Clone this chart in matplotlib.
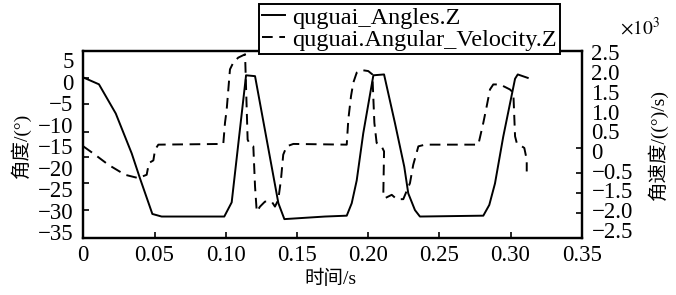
import numpy as np
import matplotlib
matplotlib.use('Agg')
import matplotlib.pyplot as plt
from matplotlib.ticker import FixedLocator, FixedFormatter

plt.rcParams['font.family'] = ['Liberation Serif', 'Noto Sans CJK SC', 'DejaVu Sans']
plt.rcParams['mathtext.fontset'] = 'stix'

# angle curve, time in s, angle in degrees
t_ang = [0.0, 0.011, 0.0228, 0.034, 0.0398, 0.0485, 0.055,
         0.099, 0.1042, 0.1143, 0.1206, 0.137, 0.1412, 0.1697,
         0.185, 0.1885, 0.192, 0.1966, 0.2037, 0.2112, 0.2189, 0.2254, 0.2282, 0.2329, 0.2364,
         0.2809, 0.2851, 0.2891, 0.2949, 0.3032, 0.3051, 0.3121]
ang = [1.0, -0.6, -7.4, -16.7, -22.5, -30.8, -31.4,
       -31.4, -28.1, 1.5, 1.3, -28.3, -32.0, -31.4,
       -31.2, -28.3, -23.0, -12.0, 1.5, 1.7, -9.7, -19.8, -26.0, -29.9, -31.4,
       -31.2, -28.7, -23.7, -12.8, 0.7, 1.7, 0.9]

# angular velocity curve, deg/s (as placed on the right axis)
t_vel = [0.0, 0.0082, 0.0176, 0.0293, 0.0386, 0.0445, 0.0461, 0.0492, 0.0504, 0.0527,
         0.0983, 0.0995, 0.1007, 0.103, 0.1053, 0.1088, 0.1136, 0.1154, 0.1171, 0.1194,
         0.1206, 0.1218, 0.1241, 0.1276, 0.1323, 0.1346, 0.1369, 0.1388, 0.1404, 0.1428, 0.1475,
         0.185, 0.1861, 0.188, 0.1896, 0.192, 0.1955, 0.2001, 0.203, 0.2044, 0.206, 0.2095,
         0.2112, 0.2107, 0.2119, 0.2166, 0.2201, 0.2247, 0.2294, 0.2317, 0.2353, 0.24,
         0.2774, 0.2809, 0.2833, 0.2856, 0.2879, 0.2926, 0.2996, 0.302, 0.3032, 0.3044,
         0.3097, 0.3114, 0.3114]
vel = [118, -93, -348, -602, -686, -602, -304, -238, 34, 161,
       179, 713, 1051, 2068, 2238, 2365, 2449, 288, 161, 118,
       -899, -1535, -1408, -1281, -1281, -1408, -1238, -729, -93, 118, 179,
       161, 796, 1389, 1730, 1984, 2050, 2025, 1940, 713, 204, 118,
       -10, -1067, -1194, -1110, -1220, -1220, -813, -348, 118, 161,
       161, 713, 1135, 1559, 1686, 1686, 1559, 1475, 372, 204,
       77, -220, -518]

x_ticks = [0, 0.05, 0.10, 0.15, 0.20, 0.25, 0.30, 0.35]
x_labels = ['0', '0.05', '0.10', '0.15', '0.20', '0.25', '0.30', '0.35']
left_labels = ['5', '0', '\u22125', '\u221210', '\u221215', '\u221220', '\u221225', '\u221230', '\u221235']
left_label_pos = [5, 0, -5, -10, -15, -20, -25, -30, -35]
left_marks = [0.8, -5.2, -11.6, -17.6, -23.6, -29.9]
right_labels = ['2.5', '2.0', '1.5', '1.0', '0.5', '0', '\u22120.5', '\u22121.5', '\u22122.0', '\u22122.5']
right_label_pos = [2.5, 2.0, 1.5, 1.0, 0.5, 0.0, -0.5, -1.0, -1.5, -2.0]
right_marks = [2.0, 1.5, 1.0, 0.5, 0.08, -0.56, -1.07, -1.58]

W, H = 676, 295
fig = plt.figure(figsize=(W / 100, H / 100), dpi=100)
ax = fig.add_axes([83.3 / W, 1 - 237.7 / H, (581.7 - 83.3) / W, (237.7 - 51) / H])
ax2 = ax.twinx()

l1, = ax.plot(t_ang, ang, color='black', lw=1.4, label='quguai_Angles.Z')
l2, = ax2.plot(t_vel, np.array(vel) / 1000.0, color='black', lw=1.4,
               dashes=(5.5, 3.4), label='quguai.Angular_Velocity.Z')

ax.set_xlim(0, 0.35)
ax.set_ylim(-36.33, 7.16)
ax2.set_ylim(-2.196, 2.533)

fs = 16.5
ax.set_xticks(x_ticks)
ax.set_xticklabels(x_labels, fontsize=fs)
ax.tick_params(axis='x', direction='in', length=4, width=1.2, pad=5, top=False)

ax.yaxis.set_major_locator(FixedLocator(left_label_pos))
ax.yaxis.set_major_formatter(FixedFormatter(left_labels))
ax.yaxis.set_minor_locator(FixedLocator(left_marks))
ax.tick_params(axis='y', which='major', length=0, pad=7, labelsize=fs)
ax.tick_params(axis='y', which='minor', direction='in', length=4, width=1.2)

ax2.yaxis.set_major_locator(FixedLocator(right_label_pos))
ax2.yaxis.set_major_formatter(FixedFormatter(right_labels))
ax2.yaxis.set_minor_locator(FixedLocator(right_marks))
ax2.tick_params(axis='y', which='major', length=0, pad=7, labelsize=fs)
ax2.tick_params(axis='y', which='minor', direction='in', length=4, width=1.2)

for a in (ax, ax2):
    for s in a.spines.values():
        s.set_linewidth(1.6)

fig.text(330 / W, 1 - 279 / H, '时间/s', ha='center', va='center', fontsize=14)
fig.text(21 / W, 1 - 145 / H, '角度/(°)', ha='center', va='center', rotation=90, fontsize=14)
fig.text(658 / W, 1 - 145 / H, '角速度/((°)/s)', ha='center', va='center', rotation=90, fontsize=14)
fig.text(620 / W, 1 - 28 / H, r'$\times10^{3}$', ha='left', va='center', fontsize=14)

leg = fig.legend(handles=[l1, l2], loc='upper left', bbox_to_anchor=(259 / W, 1 - 4 / H),
                 fontsize=17.5, frameon=True, fancybox=False, framealpha=1,
                 edgecolor='black', handlelength=0.95, handletextpad=0.3,
                 borderpad=0.12, labelspacing=0.0, borderaxespad=0)
leg.get_frame().set_linewidth(1.4)

fig.savefig('out.png', dpi=100)
